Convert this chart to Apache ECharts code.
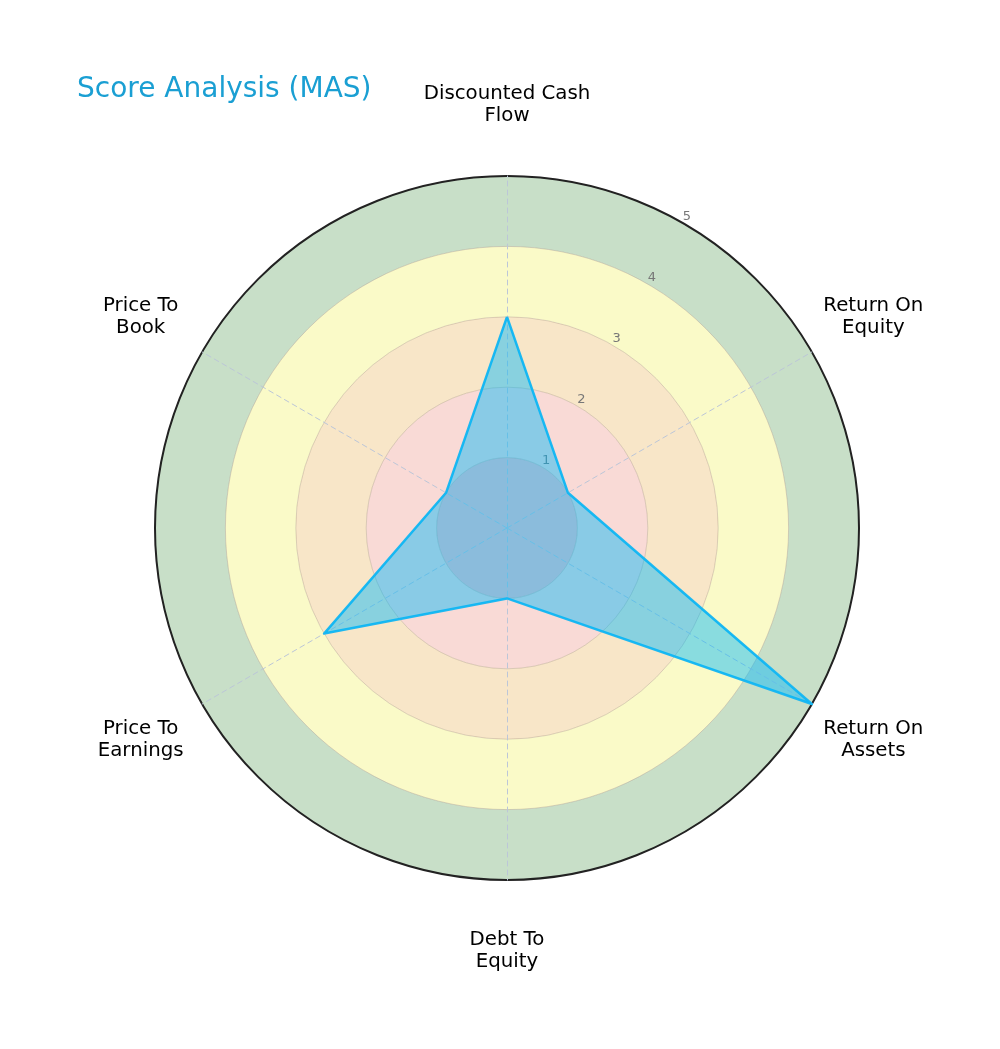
<!DOCTYPE html>
<html>
<head>
<meta charset="utf-8">
<script src="https://cdn.jsdelivr.net/npm/echarts@6/dist/echarts.min.js"></script>
<style>
html,body{margin:0;padding:0;background:#fff;}
#chart{width:1000px;height:1049px;}
</style>
</head>
<body>
<div id="chart"></div>
<script>
// Categories in clockwise order starting from the top
const categories = ['Discounted Cash\nFlow', 'Return On\nEquity', 'Return On\nAssets', 'Debt To\nEquity', 'Price To\nEarnings', 'Price To\nBook'];
const scores = [3, 1, 5, 1, 3, 1];
const tickLabels = ['1', '2', '3', '4', '5'];
const maxScore = 5;
const bandColors = ['#fdc0c3', '#f9dad6', '#f8e6c8', '#fafac8', '#c8dfc8'];

// ECharts radar places indicators counter-clockwise; reorder to clockwise layout
const order = [0].concat(categories.slice(1).map((_, i) => categories.length - 1 - i));
const indicators = order.map(i => ({ name: categories[i], min: 0, max: maxScore }));
const values = order.map(i => scores[i]);

const chart = echarts.init(document.getElementById('chart'));
const font = 'DejaVu Sans';
const center = [507, 528];
const radius = 352;

chart.setOption({
  backgroundColor: '#ffffff',
  animation: false,
  title: {
    text: 'Score Analysis (MAS)',
    left: 72,
    top: 71,
    textStyle: { color: '#1a9fd3', fontSize: 28, fontWeight: 'normal', fontFamily: font }
  },
  radar: {
    center: center,
    radius: radius,
    shape: 'circle',
    splitNumber: 5,
    startAngle: 90,
    indicator: indicators,
    nameGap: 71,
    axisName: {
      color: '#000',
      fontSize: 19.8,
      fontFamily: font,
      lineHeight: 22,
      align: 'center',
      verticalAlign: 'middle'
    },
    axisLine: { lineStyle: { color: '#bcc6d8', type: [5, 4], width: 1 } },
    axisTick: { show: false },
    axisLabel: { show: false },
    splitLine: { lineStyle: { color: 'rgba(170,150,130,0.4)', width: 1 } },
    splitArea: { show: true, areaStyle: { color: bandColors, opacity: 1 } }
  },
  polar: { center: center, radius: radius },
  angleAxis: {
    startAngle: 60,
    min: 0, max: 360,
    axisLine: { show: true, lineStyle: { color: '#222', width: 2 } },
    axisTick: { show: false },
    axisLabel: { show: false },
    splitLine: { show: false }
  },
  radiusAxis: {
    min: 0, max: maxScore, interval: 1,
    axisLine: { show: false },
    axisTick: { show: false },
    splitLine: { show: false },
    axisLabel: {
      color: '#777',
      fontSize: 13,
      fontFamily: font,
      margin: 0,
      align: 'center',
      verticalAlign: 'bottom',
      padding: [0, 0, 0, 8],
      formatter: v => (v >= 1 ? tickLabels[v - 1] : '')
    }
  },
  series: [{
    type: 'radar',
    symbol: 'none',
    lineStyle: { color: '#1fb8f0', width: 2.5 },
    areaStyle: { color: 'rgb(0,185,250)', opacity: 0.45 },
    data: [{ value: values }]
  }]
});
</script>
</body>
</html>
